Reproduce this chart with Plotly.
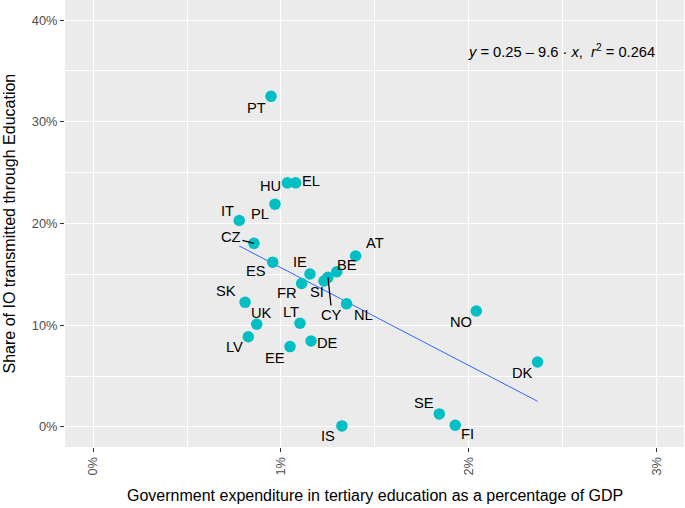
import numpy as np
import plotly.graph_objects as go

countries = ["PT", "HU", "EL", "PL", "IT", "CZ", "ES", "IE", "FR", "SI", "CY", "BE", "AT",
             "NL", "SK", "UK", "LV", "LT", "DE", "EE", "NO", "DK", "SE", "FI", "IS"]
gov_exp = [0.947, 1.034, 1.078, 0.968, 0.778, 0.856, 0.956, 1.154, 1.110, 1.229, 1.250, 1.297, 1.397,
           1.349, 0.809, 0.871, 0.826, 1.101, 1.160, 1.048, 2.039, 2.365, 1.842, 1.927, 1.324]
io_share = [32.5, 24.0, 24.0, 21.9, 20.3, 18.05, 16.2, 15.04, 14.1, 14.35, 14.71, 15.26, 16.8,
            12.1, 12.25, 10.1, 8.87, 10.2, 8.45, 7.9, 11.4, 6.39, 1.28, 0.17, 0.1]

# label offsets in pixels (dx right, dy down) relative to the point
label_dx = [-14.5, -17, 15, -15, -12, -23, -17, -10, -15, -7, 4, 10.6, 19,
            17, -19, 4.6, -13.6, -8.7, 16.5, -15, -15, -15, -15, 12.7, -14]
label_dy = [11.5, 3, -2, 10, -9, -6, 9, -11.5, 9, 11, 37.7, -7, -13,
            11, -11, -11.5, 10.5, -11, 1.5, 11, 11.5, 11, -11, 9, 10]
with_segment = ["CZ", "CY"]

equation = "<i>y</i> = 0.25 \u2013 9.6 \u00b7 <i>x</i>,  <i>r</i><sup>2</sup> = 0.264"
x_title = "Government expenditure in tertiary education as a percentage of GDP"
y_title = "Share of IO transmitted through Education"

x = np.array(gov_exp) / 100
y = np.array(io_share) / 100
slope, intercept = np.polyfit(x, y, 1)
xl = np.array([x.min(), x.max()])
yl = intercept + slope * xl

FONT = "Liberation Sans, Arial, Helvetica, sans-serif"

fig = go.Figure()
fig.add_trace(go.Scatter(x=xl, y=yl, mode="lines",
                         line=dict(color="#3366FF", width=1), hoverinfo="skip"))
fig.add_trace(go.Scatter(x=x, y=y, mode="markers",
                         marker=dict(color="#00BFC4", size=11.5, line=dict(width=0)),
                         text=countries))

annotations = []
for c, xv, yv, dx, dy in zip(countries, x, y, label_dx, label_dy):
    if c in with_segment:
        annotations.append(dict(x=xv, y=yv, xref="x", yref="y", text=c, showarrow=True,
                                arrowhead=0, arrowwidth=1.3, arrowcolor="black",
                                ax=dx, ay=dy, standoff=0, startstandoff=0,
                                font=dict(family=FONT, size=14.7, color="black")))
    else:
        annotations.append(dict(x=xv, y=yv, xref="x", yref="y", text=c, showarrow=False,
                                xshift=dx, yshift=-dy,
                                font=dict(family=FONT, size=14.7, color="black")))

annotations.append(dict(x=0.03, y=0.37, xref="x", yref="y", text=equation, showarrow=False,
                        xanchor="right", yanchor="middle",
                        font=dict(family=FONT, size=14.7, color="black")))
annotations.append(dict(x=0.5, y=-0.1074, xref="paper", yref="paper", text=x_title,
                        showarrow=False, xanchor="center", yanchor="middle",
                        font=dict(family=FONT, size=16, color="black")))
annotations.append(dict(x=-0.0889, y=0.5, xref="paper", yref="paper", text=y_title,
                        showarrow=False, textangle=-90, xanchor="center", yanchor="middle",
                        font=dict(family=FONT, size=16, color="black")))

fig.update_layout(
    width=685, height=508,
    margin=dict(l=65, r=1, t=0, b=61),
    paper_bgcolor="white", plot_bgcolor="#EBEBEB",
    showlegend=False,
    annotations=annotations,
    font=dict(family=FONT),
)
fig.update_xaxes(range=[-0.00149, 0.03144], tick0=0, dtick=0.01, tickformat=".0%",
                 showgrid=True, gridcolor="white", gridwidth=1.1, zeroline=False,
                 ticks="outside", ticklen=4, tickcolor="#333333", tickwidth=1.1,
                 tickangle=-90, tickfont=dict(family=FONT, size=12.8, color="#4D4D4D"),
                 minor=dict(dtick=0.005, tick0=0, showgrid=True, gridcolor="white", gridwidth=0.5),
                 showline=False)
fig.update_yaxes(range=[-0.0197, 0.4197], tick0=0, dtick=0.1, tickformat=".0%",
                 showgrid=True, gridcolor="white", gridwidth=1.1, zeroline=False,
                 ticks="outside", ticklen=4, tickcolor="#333333", tickwidth=1.1,
                 tickfont=dict(family=FONT, size=12.8, color="#4D4D4D"),
                 minor=dict(dtick=0.05, tick0=0, showgrid=True, gridcolor="white", gridwidth=0.5),
                 showline=False)

fig.write_html("out.html", config={"displayModeBar": False},
               post_script="document.body.style.margin='0';")
